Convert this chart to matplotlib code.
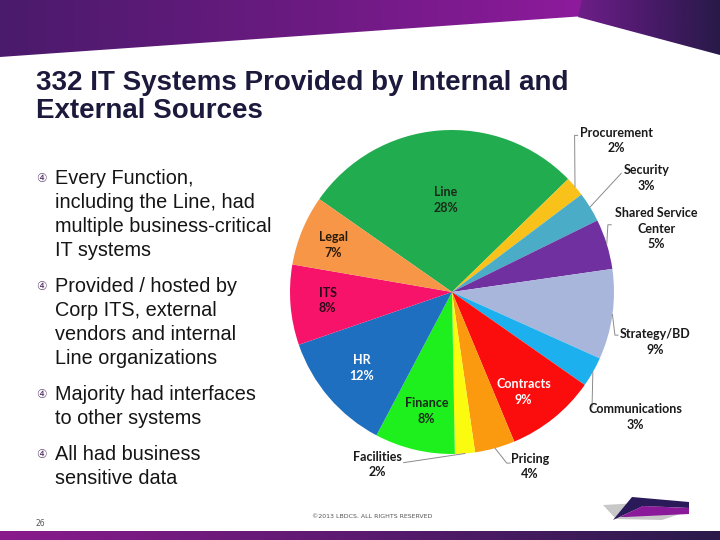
import numpy as np
import matplotlib.pyplot as plt
from matplotlib.patches import Polygon
from matplotlib.colors import LinearSegmentedColormap

# Datos del gráfico (porcentaje de sistemas por función)
groups = ['Line', 'Procurement', 'Security', 'Shared Service\nCenter', 'Strategy/BD',
          'Communications', 'Contracts', 'Pricing', 'Facilities', 'Finance', 'HR', 'ITS', 'Legal']
shares = [28, 2, 3, 5, 9, 3, 9, 4, 2, 8, 12, 8, 7]

title = '332 IT Systems Provided by Internal and\nExternal Sources'
bullets = [
    ['Every Function,', 'including the Line, had', 'multiple business-critical', 'IT systems'],
    ['Provided / hosted by', 'Corp ITS, external', 'vendors and internal', 'Line organizations'],
    ['Majority had interfaces', 'to other systems'],
    ['All had business', 'sensitive data'],
]

# Estilo
slice_colors = ['#21ad4f', '#f8c21b', '#4aacc6', '#7030a0', '#a9b6dc', '#1cb0ee',
                '#fb0d0d', '#fb9a0e', '#fbfb10', '#1df01d', '#1e6fc0', '#f8136a', '#f79646']
# (desfase angular, radio relativo, color de texto) para cada etiqueta
label_pos = {
    'Line': (-0.7, 0.57, '#1a2a1a'),
    'Procurement': (2.1, 1.38, '#1a1a1a'),
    'Security': (-1.2, 1.39, '#1a1a1a'),
    'Shared Service\nCenter': (0.0, 1.32, '#1a1a1a'),
    'Strategy/BD': (-5.8, 1.29, '#1a1a1a'),
    'Communications': (-4.7, 1.37, '#1a1a1a'),
    'Contracts': (-3.2, 0.76, 'white'),
    'Pricing': (8.7, 1.18, '#1a1a1a'),
    'Facilities': (-28.1, 1.16, '#1a1a1a'),
    'Finance': (1.3, 0.75, '#1a2a1a'),
    'HR': (-0.5, 0.73, 'white'),
    'ITS': (-0.7, 0.77, '#2a0a1a'),
    'Legal': (0.8, 0.79, '#2a1a0a'),
}
# puntos de la línea guía relativos a la etiqueta (px)
leaders = {
    'Procurement': [(-41.7, -5), (-38.7, -5)],
    'Security': [(-25, -4.7)],
    'Shared Service\nCenter': [(-48.4, -4), (-45, -4)],
    'Strategy/BD': [(-40, -6.7), (-37, -6.7)],
    'Communications': [(-43.3, -10)],
    'Pricing': [(-23.3, -3.4), (-20, -3.4)],
    'Facilities': [(26.6, -1.7)],
}
cx, cy, R = 452, 292, 162

fig = plt.figure(figsize=(7.2, 5.4), dpi=100)
ax = fig.add_axes([0, 0, 1, 1])

# Pastel (eje y invertido: sentido antihorario en datos = horario en pantalla)
wedges, _ = ax.pie(shares, colors=slice_colors, startangle=-145, counterclock=True,
                   center=(cx, cy), radius=R, wedgeprops=dict(linewidth=0))

for w, g, v in zip(wedges, groups, shares):
    mid = -(w.theta1 + w.theta2) / 2
    dphi, rf, tc = label_pos[g]
    phi = np.radians(mid + dphi)
    lx, ly = cx + rf * R * np.cos(phi), cy - rf * R * np.sin(phi)
    ax.text(lx, ly, f'{g}\n{v}%', ha='center', va='center', fontsize=9,
            fontweight='bold', family='Lato', color=tc, linespacing=1.35, zorder=5)
    if g in leaders:
        m = np.radians(mid)
        xs = [cx + R * np.cos(m)] + [lx + dx for dx, dy in leaders[g]]
        ys = [cy - R * np.sin(m)] + [ly + dy for dx, dy in leaders[g]]
        ax.plot(xs, ys, color='#8a8a8a', lw=0.7, zorder=4)

# Cabecera morada con degradado
cm_left = LinearSegmentedColormap.from_list('l', ['#4a1a6c', '#6a1a80', '#8e1a9c'])
grad = np.linspace(0, 1, 256).reshape(1, -1)
im = ax.imshow(grad, cmap=cm_left, extent=(0, 585, 60, 0), aspect='auto', zorder=1)
im.set_clip_path(Polygon([(0, 0), (585, 0), (585, 16), (0, 57)], closed=True, transform=ax.transData))
cm_right = LinearSegmentedColormap.from_list('r', ['#6e1e88', '#4a1a6a', '#281a48'])
im2 = ax.imshow(grad, cmap=cm_right, extent=(578, 720, 60, 0), aspect='auto', zorder=1)
im2.set_clip_path(Polygon([(582, 0), (720, 0), (720, 55), (578, 17)], closed=True, transform=ax.transData))

# Franja inferior
cm_bot = LinearSegmentedColormap.from_list('b', ['#8a1a8c', '#5a1a70', '#2a1a4a'])
ax.imshow(grad, cmap=cm_bot, extent=(0, 720, 540, 531), aspect='auto', zorder=1)

# Logotipo
ax.add_patch(Polygon([(603, 505), (640, 503), (689, 511), (662, 520), (616, 519)],
                     closed=True, color='#c8c8c8', lw=0, zorder=2))
ax.add_patch(Polygon([(632, 497), (689, 502), (689, 508), (643, 506), (613, 520)],
                     closed=True, color='#2a1a5a', lw=0, zorder=3))
ax.add_patch(Polygon([(643, 506), (689, 508), (689, 514), (626, 517), (620, 517)],
                     closed=True, color='#8a1a9a', lw=0, zorder=3))

# Título (la línea base indicada es la de la última línea)
ax.text(36, 118, title, fontsize=20, fontweight='bold', family='Liberation Sans',
        color='#1c1a3c', va='baseline', ha='left', linespacing=1.08)

# Viñetas
y = 184
for block in bullets:
    ax.text(41, y - 5, '\u2463', fontsize=8.5, color='#5a3a6a', ha='center', va='center',
            family='DejaVu Sans')
    for line in block:
        ax.text(55, y, line, fontsize=14.3, family='Liberation Sans', color='#151515',
                va='baseline', ha='left')
        y += 24
    y += 12

# Pie de página
ax.text(372, 517, '\u00a92013 LBDCS. ALL RIGHTS RESERVED', fontsize=4.5, color='#555555',
        ha='center', va='center', family='DejaVu Sans')
ax.text(40, 523, '26', fontsize=5.5, color='#555555', ha='center', va='center')

ax.set_xlim(0, 720)
ax.set_ylim(540, 0)
ax.set_aspect('auto')
ax.axis('off')

fig.savefig('out.png', dpi=100)
